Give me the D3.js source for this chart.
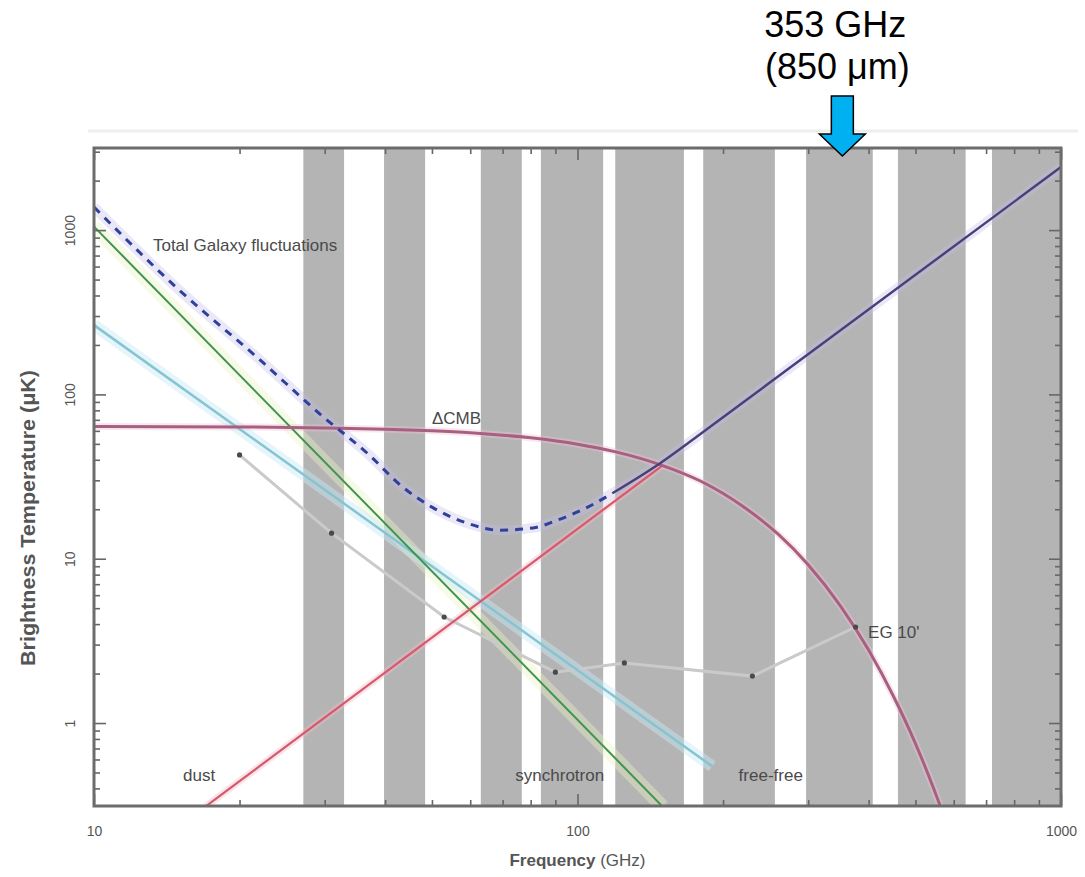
<!DOCTYPE html>
<html>
<head>
<meta charset="utf-8">
<script src="https://cdn.jsdelivr.net/npm/d3@7"></script>
<style>
  html, body { margin: 0; padding: 0; background: #fff; }
  svg { display: block; }
</style>
</head>
<body>
<svg id="chart" width="1085" height="877"></svg>
<script>
// Frequency bands (GHz): lower and upper edges
const bandLow  = [27.1, 39.8, 63.1, 84, 119.7, 182, 297, 460, 720];
const bandHigh = [32.9, 48.4, 76.7, 113, 166, 256, 408, 635, 1000];

// Foreground components, brightness temperature (uK) vs frequency (GHz)
const syncFreq = [10, 150];
const syncTemp = [1050, 0.31];
const ffFreq = [10, 190];
const ffTemp = [264, 0.545];
const dustFreq = [17, 150];
const dustTemp = [0.31, 37];

// CMB anisotropy in brightness temperature
const cmbFreq = [10, 20, 30, 40, 50, 60, 70, 80, 100, 120, 150, 180, 220, 260, 300, 350, 400, 450, 500, 550, 580];
const cmbTemp = [63.8, 63.4, 62.5, 61.4, 60, 58.4, 56.5, 54.4, 49.8, 44.7, 36.9, 29.6, 20.8, 14.1, 9.2, 5.15, 2.78, 1.46, 0.75, 0.374, 0.245];

// Total Galaxy fluctuations
const totalFreq = [10, 15, 21.7, 29.8, 36.7, 43.5, 50, 59, 69, 81, 91, 105, 118, 148, 179, 246, 1000];
const totalTemp = [1380, 432, 169, 73, 44, 27.3, 20.6, 16.5, 14.9, 15.4, 17.2, 20.6, 25, 38, 57, 114, 2420];
const totalSplit = 118; // dashed below, solid above

// Extragalactic sources (10')
const egFreq = [20, 31, 53, 90, 125, 230, 376];
const egTemp = [42.8, 14.3, 4.42, 2.04, 2.32, 1.93, 3.84];

const xTickLabels = [10, 100, 1000];
const yTickLabels = [1, 10, 100, 1000];
const markFreq = 353;

const svg = d3.select("#chart");
const pL = 94, pR = 1061, pT = 148, pB = 806;

const x = d3.scaleLog().domain([10, 1000]).range([pL, pR]);
const y = d3.scaleLog().domain([0.3126, 3160]).range([pB, pT]);

const zip = (f, t) => f.map((v, i) => [v, t[i]]);
const line = d3.line().x(d => x(d[0])).y(d => y(d[1])).curve(d3.curveMonotoneX);

// faint outer edge above the plot
svg.append("line").attr("x1", 88).attr("x2", 1078).attr("y1", 131).attr("y2", 131)
  .attr("stroke", "#eeeeee").attr("stroke-width", 3);

svg.append("defs").append("clipPath").attr("id", "plot")
  .append("rect").attr("x", pL).attr("y", pT).attr("width", pR - pL).attr("height", pB - pT);

const g = svg.append("g").attr("clip-path", "url(#plot)");

// bands
g.selectAll("rect.band").data(bandLow.map((lo, i) => [lo, bandHigh[i]])).join("rect")
  .attr("class", "band")
  .attr("x", d => x(d[0])).attr("width", d => x(d[1]) - x(d[0]))
  .attr("y", pT).attr("height", pB - pT)
  .attr("fill", "#b4b4b4");

// soft halos under the curves
const halo = (data, color, w, op) => g.append("path").attr("d", line(data))
  .attr("fill", "none").attr("stroke", color).attr("stroke-width", w)
  .attr("stroke-opacity", op);

halo(zip(syncFreq, syncTemp), "#e8f2c0", 14, 0.4);
halo(zip(ffFreq, ffTemp), "#c6e8f4", 12, 0.45);
halo(zip(cmbFreq, cmbTemp), "#efc2da", 7, 0.4);
halo(zip(dustFreq, dustTemp), "#f6bcc8", 7, 0.4);
halo(zip(totalFreq, totalTemp), "#c4bce8", 10, 0.35);

// extragalactic source curve
const eg = zip(egFreq, egTemp);
g.append("path").attr("d", d3.line().x(d => x(d[0])).y(d => y(d[1]))(eg))
  .attr("fill", "none").attr("stroke", "#cacaca").attr("stroke-width", 3);

// free-free
g.append("path").attr("d", line(zip(ffFreq, ffTemp)))
  .attr("fill", "none").attr("stroke", "#86c4d4").attr("stroke-width", 2.5);

// synchrotron
g.append("path").attr("d", line(zip(syncFreq, syncTemp)))
  .attr("fill", "none").attr("stroke", "#3f9450").attr("stroke-width", 2);

// dust
g.append("path").attr("d", line(zip(dustFreq, dustTemp)))
  .attr("fill", "none").attr("stroke", "#d45a6c").attr("stroke-width", 2.2);

// CMB
g.append("path").attr("d", line(zip(cmbFreq, cmbTemp)))
  .attr("fill", "none").attr("stroke", "#a86080").attr("stroke-width", 3);

// total: dashed at low frequency, solid where dust dominates
const total = zip(totalFreq, totalTemp);
g.append("path").attr("d", line(total.filter(d => d[0] <= totalSplit)))
  .attr("fill", "none").attr("stroke", "#2f3f9c").attr("stroke-width", 3)
  .attr("stroke-dasharray", "8,7");
g.append("path").attr("d", line(total.filter(d => d[0] >= totalSplit)))
  .attr("fill", "none").attr("stroke", "#4a3f78").attr("stroke-width", 2.4);

// source points
g.selectAll("circle.eg").data(eg).join("circle").attr("class", "eg")
  .attr("cx", d => x(d[0])).attr("cy", d => y(d[1])).attr("r", 2.6)
  .attr("fill", "#4a4a4a");

// curve labels
const labelFont = "'Liberation Sans Narrow', 'Arial Narrow', 'Liberation Sans', Arial, sans-serif";
const lab = (txt, fx, ty, anchor) => svg.append("text")
  .attr("x", x(fx)).attr("y", y(ty)).attr("text-anchor", anchor || "start")
  .attr("font-family", labelFont)
  .attr("font-size", 17).attr("fill", "#4a4a4a").text(txt);

lab("Total Galaxy fluctuations", 13.24, 746);
lab("\u0394CMB", 50, 66);
lab("EG 10'", 399, 3.29);
lab("dust", 16.5, 0.443, "middle");
lab("synchrotron", 91.9, 0.443, "middle");
lab("free-free", 251, 0.443, "middle");

// axes
const minorX = [];
for (let d = 10; d < 1000; d *= 10) for (let k = 2; k <= 9; k++) minorX.push(d * k);
const minorY = [];
for (let d = 0.1; d < 3000; d *= 10) for (let k = 1; k <= 9; k++) {
  const v = +(d * k).toPrecision(3);
  if (v >= 0.3126 && v <= 3160 && !yTickLabels.includes(v)) minorY.push(v);
}

function styleAxis(sel) {
  sel.select(".domain").remove();
  sel.selectAll(".tick line").attr("stroke", "#666").attr("stroke-width", 1.6);
  sel.selectAll("text").attr("font-family", labelFont).attr("font-size", 14).attr("fill", "#555");
}

// bottom
svg.append("g").attr("transform", `translate(0,${pB})`)
  .call(d3.axisBottom(x).tickValues(xTickLabels).tickSize(-12).tickPadding(20).tickFormat(d3.format("d")))
  .call(styleAxis);
svg.append("g").attr("transform", `translate(0,${pB})`)
  .call(d3.axisBottom(x).tickValues(minorX).tickSize(-6).tickFormat(""))
  .call(styleAxis);
// top
svg.append("g").attr("transform", `translate(0,${pT})`)
  .call(d3.axisTop(x).tickValues(xTickLabels).tickSize(-12).tickFormat(""))
  .call(styleAxis);
svg.append("g").attr("transform", `translate(0,${pT})`)
  .call(d3.axisTop(x).tickValues(minorX).tickSize(-6).tickFormat(""))
  .call(styleAxis);
// left
svg.append("g").attr("transform", `translate(${pL},0)`)
  .call(d3.axisLeft(y).tickValues(yTickLabels).tickSize(-12).tickFormat(d3.format("d")))
  .call(styleAxis)
  .call(s => s.selectAll("text")
    .attr("x", 0).attr("dy", 0).attr("text-anchor", "middle")
    .attr("transform", "translate(-19,0) rotate(-90)"));
svg.append("g").attr("transform", `translate(${pL},0)`)
  .call(d3.axisLeft(y).tickValues(minorY).tickSize(-6).tickFormat(""))
  .call(styleAxis);
// right
svg.append("g").attr("transform", `translate(${pR},0)`)
  .call(d3.axisRight(y).tickValues(yTickLabels).tickSize(-12).tickFormat(""))
  .call(styleAxis);
svg.append("g").attr("transform", `translate(${pR},0)`)
  .call(d3.axisRight(y).tickValues(minorY).tickSize(-6).tickFormat(""))
  .call(styleAxis);

// frame
svg.append("rect").attr("x", pL).attr("y", pT).attr("width", pR - pL).attr("height", pB - pT)
  .attr("fill", "none").attr("stroke", "#6c6c6c").attr("stroke-width", 3);

// axis titles
svg.append("text").attr("transform", "translate(35,518) rotate(-90)")
  .attr("text-anchor", "middle").attr("font-family", labelFont)
  .attr("font-size", 20).attr("font-weight", "bold").attr("fill", "#555")
  .attr("textLength", 296).attr("lengthAdjust", "spacingAndGlyphs")
  .text("Brightness Temperature (\u03bcK)");

const xt = svg.append("text").attr("x", (pL + pR) / 2).attr("y", 866)
  .attr("text-anchor", "middle").attr("font-family", labelFont)
  .attr("font-size", 17).attr("fill", "#555");
xt.append("tspan").attr("font-weight", "bold").text("Frequency ");
xt.append("tspan").text("(GHz)");

// 353 GHz marker arrow
const ax = x(markFreq);
const arrow = [[ax - 11, 96], [ax + 11, 96], [ax + 11, 134], [ax + 23, 134], [ax, 156], [ax - 23, 134], [ax - 11, 134]];
svg.append("path").attr("d", "M" + arrow.map(p => p.join(",")).join("L") + "Z")
  .attr("fill", "#00b0f0").attr("stroke", "#000").attr("stroke-width", 1.5)
  .attr("stroke-linejoin", "miter");

svg.append("text").attr("x", ax - 7).attr("y", 37).attr("text-anchor", "middle")
  .attr("font-family", "'Liberation Sans', Arial, sans-serif").attr("font-size", 36).attr("fill", "#000")
  .text("353 GHz");
svg.append("text").attr("x", ax - 5).attr("y", 79).attr("text-anchor", "middle")
  .attr("font-family", "'Liberation Sans', Arial, sans-serif").attr("font-size", 36).attr("fill", "#000")
  .text("(850 \u03bcm)");
</script>
</body>
</html>
